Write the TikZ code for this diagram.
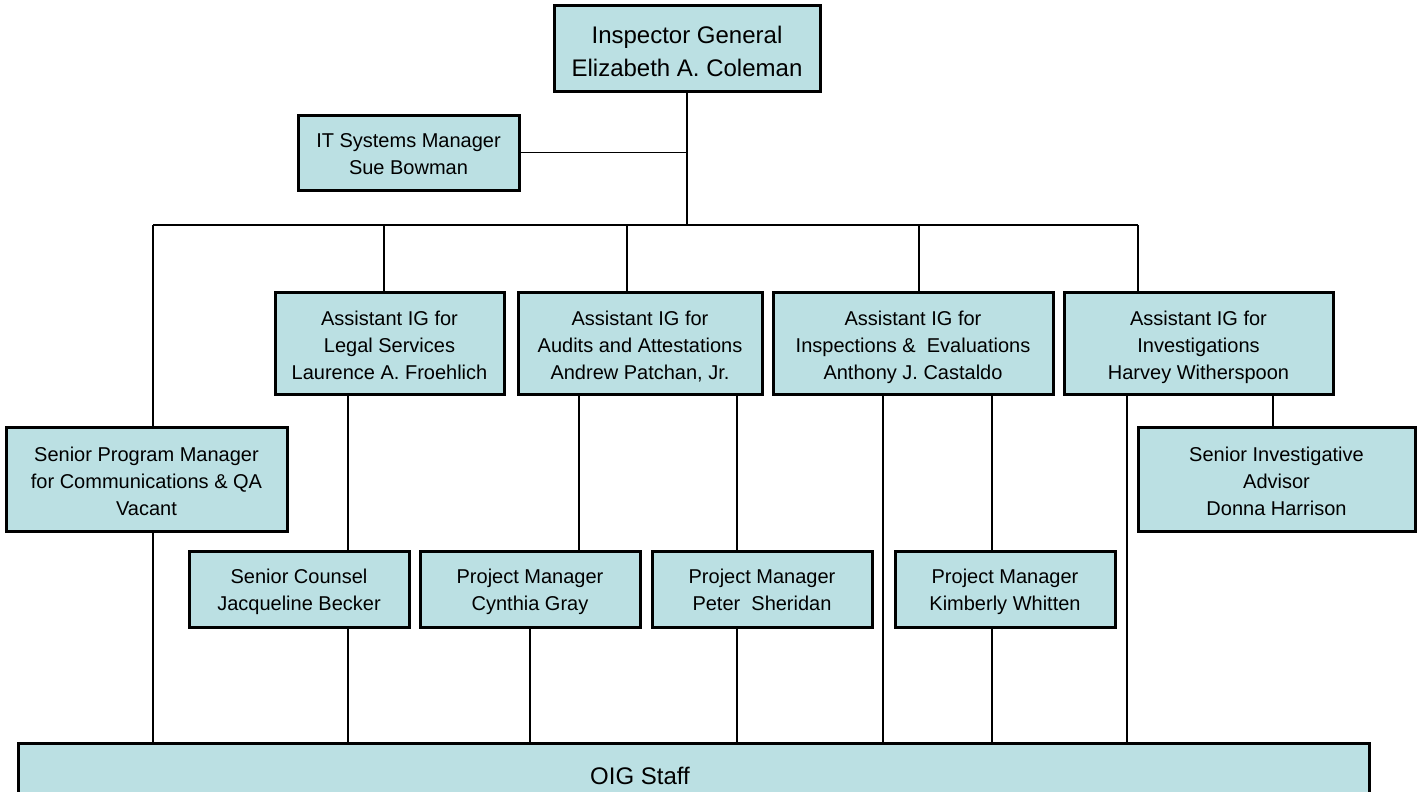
\documentclass[tikz,border=0pt]{standalone}
\usepackage{fontspec}
\setmainfont{Liberation Sans}
\definecolor{boxfill}{RGB}{187,224,227}

\begin{document}
\begin{tikzpicture}[x=1pt,y=-1pt,line join=miter,
  post/.style={draw,line width=3pt,fill=boxfill,align=center,inner sep=0pt,
    text height=48pt,text depth=4.2pt,font=\fontsize{20}{27}\selectfont},
  three/.style={text height=76.5pt},
  link/.style={line width=1.3pt}]
  \useasboundingbox (0,0) rectangle (1425,792);
  \clip (0,0) rectangle (1425,792);
  % Leitung
  \node[post,minimum width=266,minimum height=86,text height=60pt,text depth=5pt,
    font=\fontsize{24}{33}\selectfont] (ig) at (687,49) {Inspector General\\Elizabeth A. Coleman};
  \node[post,minimum width=221,minimum height=75] (it) at (408.5,152.5) {IT Systems Manager\\Sue Bowman};
  % Assistant IGs
  \node[post,three,minimum width=229,minimum height=102] (legal) at (389.5,343) {Assistant IG for\\Legal Services\\Laurence A. Froehlich};
  \node[post,three,minimum width=244,minimum height=102] (audits) at (640,343) {Assistant IG for\\Audits and Attestations\\Andrew Patchan, Jr.};
  \node[post,three,minimum width=280,minimum height=102] (insp) at (913,343) {Assistant IG for\\Inspections \&\ \ Evaluations\\Anthony J. Castaldo};
  \node[post,three,minimum width=269,minimum height=102] (invest) at (1198.5,343) {Assistant IG for\\Investigations\\Harvey Witherspoon};
  % Seitenboxen
  \node[post,three,minimum width=281,minimum height=104] (spm) at (146.5,479) {Senior Program Manager\\for Communications \& QA\\Vacant};
  \node[post,three,minimum width=277,minimum height=104] (sai) at (1276.5,479) {Senior Investigative\\Advisor\\Donna Harrison};
  % Projektleiter
  \node[post,minimum width=220,minimum height=76] (counsel) at (299,589) {Senior Counsel\\Jacqueline Becker};
  \node[post,minimum width=220,minimum height=76] (gray) at (530,589) {Project Manager\\Cynthia Gray};
  \node[post,minimum width=220,minimum height=76] (sheridan) at (762,589) {Project Manager\\Peter\ \ Sheridan};
  \node[post,minimum width=220,minimum height=76] (whitten) at (1005,589) {Project Manager\\Kimberly Whitten};
  % Mitarbeiter
  \node[post,minimum width=1351,minimum height=67,text height=0pt,text depth=0pt] (oig) at (693.5,776.5) {};
  \node[font=\fontsize{24}{28}\selectfont,inner sep=0pt] (staff) at (640,776) {OIG Staff};
  % Verbindungen oben
  \coordinate (hub) at (687,225);
  \coordinate (barL) at (153,225);
  \coordinate (barR) at (1138,225);
  \draw[link] (ig.south) -- (hub);
  \draw[link] (it.east) -- (it.east -| hub);
  \draw[link] (barL) -- (barR);
  \foreach \x/\b in {153/spm,384/legal,627/audits,919/insp,1138/invest}{
    \path (\x,225) coordinate (drop);
    \draw[link] (drop) -- (drop |- \b.north);
  }
  % Verbindungen Mitte
  \foreach \x/\a/\b in {348/legal/counsel,579/audits/gray,737/audits/sheridan,992/insp/whitten,1273/invest/sai}{
    \path (\x,0) coordinate (tap);
    \draw[link] (\a.south -| tap) -- (\b.north -| tap);
  }
  % Verbindungen unten
  \foreach \x/\a in {153/spm,348/counsel,530/gray,737/sheridan,883/insp,992/whitten,1127/invest}{
    \path (\x,0) coordinate (tap);
    \draw[link] (\a.south -| tap) -- (oig.north -| tap);
  }
\end{tikzpicture}
\end{document}
